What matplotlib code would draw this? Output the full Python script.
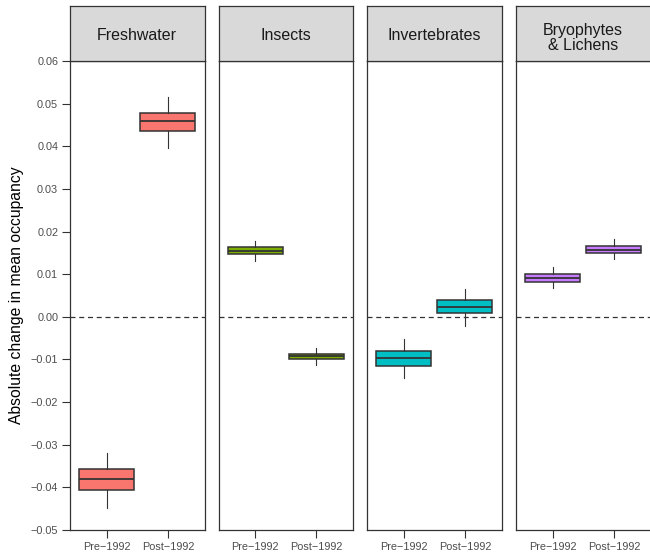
import matplotlib
matplotlib.use("Agg")
import matplotlib.pyplot as plt

plt.rcParams['font.family'] = ['Liberation Sans', 'DejaVu Sans']

groups = ["Freshwater", "Insects", "Invertebrates", "Bryophytes\n& Lichens"]
periods = ["Pre\u22121992", "Post\u22121992"]
colors = ["#F8766D", "#7CAE00", "#00BFC4", "#C77CFF"]

# stats per group: [pre, post], each (whislo, q1, med, q3, whishi)
freshwater = [(-0.0449, -0.0407, -0.0380, -0.0357, -0.0320),
              (0.0396, 0.0436, 0.0459, 0.0478, 0.0516)]
insects = [(0.0132, 0.0147, 0.0155, 0.0164, 0.0178),
           (-0.0112, -0.0100, -0.0093, -0.0087, -0.0072)]
invertebrates = [(-0.0143, -0.0115, -0.0096, -0.0080, -0.0053),
                 (-0.0022, 0.0008, 0.0023, 0.0039, 0.0065)]
bryophytes = [(0.0067, 0.0082, 0.0091, 0.0100, 0.0117),
              (0.0135, 0.0149, 0.0157, 0.0166, 0.0182)]
all_stats = [freshwater, insects, invertebrates, bryophytes]

yticks = [-0.05, -0.04, -0.03, -0.02, -0.01, 0.00, 0.01, 0.02, 0.03, 0.04, 0.05, 0.06]

W, H = 650, 553
fig = plt.figure(figsize=(W / 100, H / 100), dpi=100)

lefts = [70, 218.5, 367, 516]
pw = 134.5
top_px, bot_px, strip_top = 61, 530, 6
edge = "#333333"

for i, (g, st, col) in enumerate(zip(groups, all_stats, colors)):
    ax = fig.add_axes([lefts[i] / W, 1 - bot_px / H, pw / W, (bot_px - top_px) / H])
    bxp = []
    for s in st:
        bxp.append(dict(whislo=s[0], q1=s[1], med=s[2], q3=s[3], whishi=s[4], fliers=[]))
    ax.bxp(bxp, positions=[1, 2], widths=0.9, patch_artist=True, showcaps=False,
           boxprops=dict(facecolor=col, edgecolor=edge, linewidth=1.1),
           medianprops=dict(color=edge, linewidth=1.3),
           whiskerprops=dict(color=edge, linewidth=0.8))
    ax.axhline(0, color="#333333", linestyle=(0, (4, 3)), linewidth=0.9, zorder=0)
    ax.set_xlim(0.4, 2.6)
    ax.set_ylim(-0.05, 0.06)
    ax.set_xticks([1, 2])
    ax.set_xticklabels(periods)
    ax.set_yticks(yticks)
    if i == 0:
        ax.set_yticklabels([f"{v:.2f}".replace("-", "\u2212") for v in yticks])
        ax.set_ylabel("Absolute change in mean occupancy", fontsize=11.3, color="black", labelpad=5)
    else:
        ax.tick_params(axis='y', left=False, labelleft=False)
    ax.tick_params(axis='both', length=5.5, width=0.8, color=edge, labelsize=7.8, labelcolor="#4D4D4D", pad=3)
    for sp in ax.spines.values():
        sp.set_color(edge)
        sp.set_linewidth(0.9)
    # strip
    sax = fig.add_axes([lefts[i] / W, 1 - top_px / H, pw / W, (top_px - strip_top) / H])
    sax.set_facecolor("#D9D9D9")
    sax.set_xticks([])
    sax.set_yticks([])
    for sp in sax.spines.values():
        sp.set_color(edge)
        sp.set_linewidth(0.9)
    ypos = 0.42 if "\n" in g else 0.47
    sax.text(0.5, ypos, g, ha="center", va="center", fontsize=11.5, color="#1A1A1A",
             transform=sax.transAxes, linespacing=1.05)

fig.savefig("out.png", dpi=100)
